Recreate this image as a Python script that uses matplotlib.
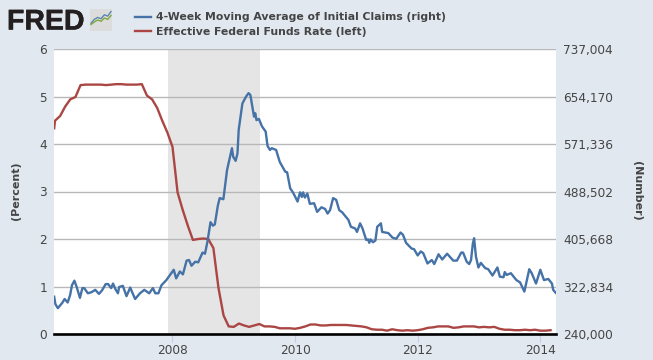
import matplotlib
matplotlib.use("Agg")
import matplotlib.pyplot as plt
from matplotlib.ticker import FuncFormatter
import matplotlib.patheffects as pe

W, H = 653, 360
BG = "#e1e8f0"
TXT = "#454545"
BLUE = "#4572A7"
RED = "#AA4643"

fed_dates = [2006.07, 2006.083, 2006.167, 2006.25, 2006.333, 2006.417, 2006.5, 2006.583, 2006.667, 2006.75, 2006.833, 2006.917,
             2007.0, 2007.083, 2007.167, 2007.25, 2007.333, 2007.417, 2007.5, 2007.583, 2007.667, 2007.75, 2007.833, 2007.917,
             2008.0, 2008.083, 2008.167, 2008.25, 2008.333, 2008.417, 2008.5, 2008.583, 2008.667, 2008.75, 2008.833, 2008.917,
             2009.0, 2009.083, 2009.167, 2009.25, 2009.333, 2009.417, 2009.5, 2009.583, 2009.667, 2009.75, 2009.833, 2009.917,
             2010.0, 2010.083, 2010.167, 2010.25, 2010.333, 2010.417, 2010.5, 2010.583, 2010.667, 2010.75, 2010.833, 2010.917,
             2011.0, 2011.083, 2011.167, 2011.25, 2011.333, 2011.417, 2011.5, 2011.583, 2011.667, 2011.75, 2011.833, 2011.917,
             2012.0, 2012.083, 2012.167, 2012.25, 2012.333, 2012.417, 2012.5, 2012.583, 2012.667, 2012.75, 2012.833, 2012.917,
             2013.0, 2013.083, 2013.167, 2013.25, 2013.333, 2013.417, 2013.5, 2013.583, 2013.667, 2013.75, 2013.833, 2013.917,
             2014.0, 2014.083, 2014.167]
fed_rate = [4.33, 4.49, 4.59, 4.79, 4.94, 4.99, 5.24, 5.25, 5.25, 5.25, 5.25, 5.24,
            5.25, 5.26, 5.26, 5.25, 5.25, 5.25, 5.26, 5.02, 4.94, 4.76, 4.49, 4.24,
            3.94, 2.98, 2.61, 2.28, 1.98, 2.00, 2.01, 2.00, 1.81, 0.97, 0.39, 0.16,
            0.15, 0.22, 0.18, 0.15, 0.18, 0.21, 0.16, 0.16, 0.15, 0.12, 0.12, 0.12,
            0.11, 0.13, 0.16, 0.20, 0.20, 0.18, 0.18, 0.19, 0.19, 0.19, 0.19, 0.18,
            0.17, 0.16, 0.14, 0.10, 0.09, 0.09, 0.07, 0.10, 0.08, 0.07, 0.08, 0.07,
            0.08, 0.10, 0.13, 0.14, 0.16, 0.16, 0.16, 0.13, 0.14, 0.16, 0.16, 0.16,
            0.14, 0.15, 0.14, 0.15, 0.11, 0.09, 0.09, 0.08, 0.08, 0.09, 0.08, 0.09,
            0.07, 0.07, 0.08]

claim_dates = [2006.07, 2006.09, 2006.13, 2006.16, 2006.20, 2006.24, 2006.29, 2006.33, 2006.36, 2006.40, 2006.44, 2006.49,
               2006.53, 2006.56, 2006.62, 2006.68, 2006.74, 2006.80, 2006.85, 2006.91, 2006.95, 2007.00, 2007.03, 2007.07,
               2007.11, 2007.13, 2007.19, 2007.25, 2007.31, 2007.39, 2007.47, 2007.54, 2007.62, 2007.68, 2007.72, 2007.77,
               2007.82, 2007.90, 2007.96, 2008.02, 2008.06, 2008.12, 2008.17, 2008.23, 2008.27, 2008.31, 2008.37, 2008.42,
               2008.49, 2008.53, 2008.57, 2008.62, 2008.66, 2008.69, 2008.74, 2008.77, 2008.83, 2008.89, 2008.97, 2008.99,
               2009.03, 2009.06, 2009.08, 2009.14, 2009.20, 2009.24, 2009.27, 2009.33, 2009.35, 2009.37, 2009.41, 2009.46,
               2009.52, 2009.55, 2009.59, 2009.62, 2009.69, 2009.75, 2009.84, 2009.87, 2009.92, 2009.97, 2010.04, 2010.08,
               2010.11, 2010.13, 2010.16, 2010.20, 2010.24, 2010.31, 2010.36, 2010.43, 2010.49, 2010.53, 2010.57, 2010.62,
               2010.67, 2010.72, 2010.77, 2010.80, 2010.87, 2010.91, 2010.98, 2011.01, 2011.06, 2011.10, 2011.16, 2011.19,
               2011.21, 2011.23, 2011.27, 2011.31, 2011.34, 2011.40, 2011.42, 2011.52, 2011.59, 2011.65, 2011.72, 2011.76,
               2011.81, 2011.90, 2011.94, 2012.00, 2012.05, 2012.09, 2012.16, 2012.23, 2012.27, 2012.34, 2012.40, 2012.48,
               2012.58, 2012.64, 2012.71, 2012.74, 2012.80, 2012.84, 2012.87, 2012.90, 2012.92, 2012.95, 2012.99, 2013.03,
               2013.10, 2013.15, 2013.22, 2013.30, 2013.34, 2013.40, 2013.42, 2013.45, 2013.52, 2013.61, 2013.67, 2013.74,
               2013.82, 2013.86, 2013.93, 2014.00, 2014.06, 2014.13, 2014.19, 2014.21, 2014.25]
claims_k = [305, 292, 285, 289, 294, 301, 295, 308, 325, 333, 321, 303,
            320, 320, 311, 313, 317, 310, 316, 327, 327, 320, 328, 318,
            311, 322, 324, 306, 321, 301, 311, 317, 311, 320, 311, 311,
            325, 334, 343, 352, 337, 349, 344, 368, 369, 359, 366, 365,
            382, 380, 401, 435, 429, 431, 464, 477, 475, 526, 564, 549,
            542, 555, 596, 642, 654, 660, 657, 619, 625, 613, 615, 602,
            593, 568, 561, 564, 561, 540, 523, 522, 494, 486, 471, 487,
            479, 487, 478, 485, 467, 468, 453, 461, 458, 450, 456, 477,
            474, 456, 452, 448, 439, 427, 424, 418, 433, 424, 404, 405,
            399, 405, 400, 403, 427, 433, 418, 416, 408, 406, 417, 413,
            399, 389, 388, 377, 384, 381, 363, 369, 362, 379, 370, 380,
            368, 368, 382, 382, 366, 362, 369, 398, 407, 375, 356, 364,
            355, 353, 342, 356, 340, 339, 348, 343, 346, 334, 330, 314,
            353, 346, 328, 352, 334, 336, 328, 317, 312]

recession = [2007.92, 2009.42]
x_ticks = [2008, 2010, 2012, 2014]
left_ticks = [0, 1, 2, 3, 4, 5, 6]
right_ticks = [240000, 322834, 405668, 488502, 571336, 654170, 737004]
x_range = [2006.067, 2014.256]
series_names = ["4-Week Moving Average of Initial Claims (right)", "Effective Federal Funds Rate (left)"]
icon_blue = [0.1, 0.4, 0.55, 0.45, 0.75, 0.65, 1.0]
icon_green = [0.0, 0.2, 0.35, 0.25, 0.5, 0.4, 0.7]

plt.rcParams["font.family"] = "DejaVu Sans"
fig = plt.figure(figsize=(W / 100, H / 100), dpi=100, facecolor=BG)
ax = fig.add_axes([54 / W, 1 - 334 / H, 502 / W, 285 / H], facecolor="white")
ax.set_xlim(*x_range)
ax.set_ylim(0, 6)
ax.axvspan(*recession, color="#e5e5e5", lw=0, zorder=0)
ax.set_yticks(left_ticks)
ax.set_xticks(x_ticks)
ax.grid(axis="y", color="#b8b8b8", lw=1, zorder=1)
ax.tick_params(axis="y", length=0, pad=5, labelsize=8.7, labelcolor=TXT)
ax.tick_params(axis="x", length=5.8, width=0.8, color="#c0d0e0", pad=1.5, labelsize=8.7, labelcolor=TXT)
for s in ax.spines.values():
    s.set_visible(False)
line_r, = ax.plot(fed_dates, fed_rate, color=RED, lw=1.7, zorder=3, solid_joinstyle="round", label=series_names[1])
ax.axhline(0, color="black", lw=1.9, zorder=5, clip_on=False)

ax2 = ax.twinx()
ax2.set_ylim(right_ticks[0], right_ticks[-1])
ax2.set_yticks(right_ticks)
ax2.yaxis.set_major_formatter(FuncFormatter(lambda v, _: f"{int(v):,}"))
ax2.tick_params(axis="y", length=0, pad=5, labelsize=8.7, labelcolor=TXT)
for s in ax2.spines.values():
    s.set_visible(False)
line_b, = ax2.plot(claim_dates, [c * 1000 for c in claims_k], color=BLUE, lw=1.7, zorder=3,
                   solid_joinstyle="round", label=series_names[0])

fig.text(16 / W, 1 - 191 / H, "(Percent)", rotation=90, ha="center", va="center", fontsize=8,
         fontweight="bold", color=TXT)
fig.text(637 / W, 1 - 191 / H, "(Number)", rotation=270, ha="center", va="center", fontsize=8,
         fontweight="bold", color=TXT)

fig.legend(handles=[line_b, line_r], labels=series_names, loc="upper left",
           bbox_to_anchor=(135 / W, 1 - 12.5 / H), bbox_transform=fig.transFigure, frameon=False,
           prop={"weight": "bold", "size": 7.85}, labelcolor=TXT, handlelength=1.47,
           handletextpad=0.5, labelspacing=0.38, borderpad=0, borderaxespad=0)

fig.text(7 / W, 1 - 29.5 / H, "FRED", family="Liberation Sans", fontweight="bold", fontsize=20.5,
         color="#231f20", ha="left", va="baseline",
         path_effects=[pe.withStroke(linewidth=0.3, foreground="#231f20")])

icon = fig.add_axes([90 / W, 1 - 31 / H, 22 / W, 22 / H], facecolor="#dcdcdc")
icon.set_xticks([])
icon.set_yticks([])
for s in icon.spines.values():
    s.set_visible(False)
icon.plot(icon_blue, color="#5a87b0", lw=1)
icon.plot(icon_green, color="#7fa83e", lw=1)
icon.set_ylim(-0.5, 1.2)

fig.savefig("out.png", dpi=100, facecolor=BG)
